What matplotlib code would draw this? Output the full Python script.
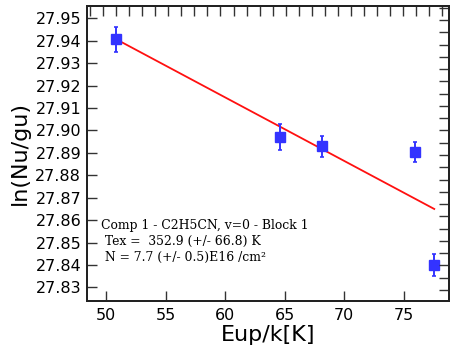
import matplotlib
matplotlib.use("Agg")
import matplotlib.pyplot as plt
from matplotlib.ticker import MultipleLocator

# Data
eup = [50.82, 64.6, 68.15, 75.94, 77.56]
ln_nu_gu = [27.9407, 27.8972, 27.8929, 27.8904, 27.8400]
err = [0.0055, 0.0059, 0.0046, 0.0043, 0.0051]
fit_x = [50.82, 77.56]
fit_y = [27.9407, 27.8650]
xticks = [50, 55, 60, 65, 70, 75]
yticks = [27.83, 27.84, 27.85, 27.86, 27.87, 27.88, 27.89, 27.90, 27.91, 27.92, 27.93, 27.94, 27.95]
info_lines = ["Comp 1 - C2H5CN, v=0 - Block 1",
              " Tex =  352.9 (+/- 66.8) K",
              " N = 7.7 (+/- 0.5)E16 /cm\u00b2"]

W, H = 455, 354
fig = plt.figure(figsize=(W / 100, H / 100), dpi=100)
ax = fig.add_axes([86.7 / W, 1 - 300.7 / H, (449 - 86.7) / W, (300.7 - 6) / H])

blue = "#3333ff"
ax.plot(fit_x, fit_y, color="#ff1010", lw=1.3, zorder=2)
ax.errorbar(eup, ln_nu_gu, yerr=err, fmt="s", color=blue, ms=7, mec=blue, mfc=blue,
            elinewidth=1.4, capsize=1.5, capthick=1.2, zorder=3)

ax.set_xlim(48.35, 78.8)
ax.set_ylim(27.8241, 27.9555)
ax.set_xticks(xticks)
ax.set_yticks(yticks)
ax.set_yticklabels(["%.2f" % v for v in yticks])
ax.tick_params(axis="both", direction="in", length=7, width=1, labelsize=11.5,
               top=False, right=False, color="#333333")
ax.tick_params(axis="x", pad=5)
ax.tick_params(axis="y", pad=4)
for s in ax.spines.values():
    s.set_linewidth(1.3)
    s.set_color("#222222")

ax.set_xlabel("Eup/k[K]", fontsize=16, labelpad=2)
ax.set_ylabel("ln(Nu/gu)", fontsize=16, labelpad=4)

# decorative secondary tick frames on top and right
axt = ax.twiny()
axt.set_xlim(-0.25, 27.51)
axt.xaxis.set_major_locator(MultipleLocator(1))
axt.tick_params(axis="x", direction="in", length=7, width=1, labeltop=False, color="#333333")
axr = ax.twinx()
axr.set_ylim(-0.87, 23.14)
axr.yaxis.set_major_locator(MultipleLocator(1))
axr.tick_params(axis="y", direction="in", length=7, width=1, labelright=False, color="#333333")
for a in (axt, axr):
    for s in a.spines.values():
        s.set_linewidth(1.3)
        s.set_color("#222222")

ax.text((101.0 - 86.7) / (449 - 86.7), 1 - (219.5 - 6) / (300.7 - 6), "\n".join(info_lines),
        transform=ax.transAxes, family="DejaVu Serif", fontsize=8.9, va="top",
        ha="left", linespacing=1.25, zorder=5)

fig.savefig("out.png", dpi=100)
